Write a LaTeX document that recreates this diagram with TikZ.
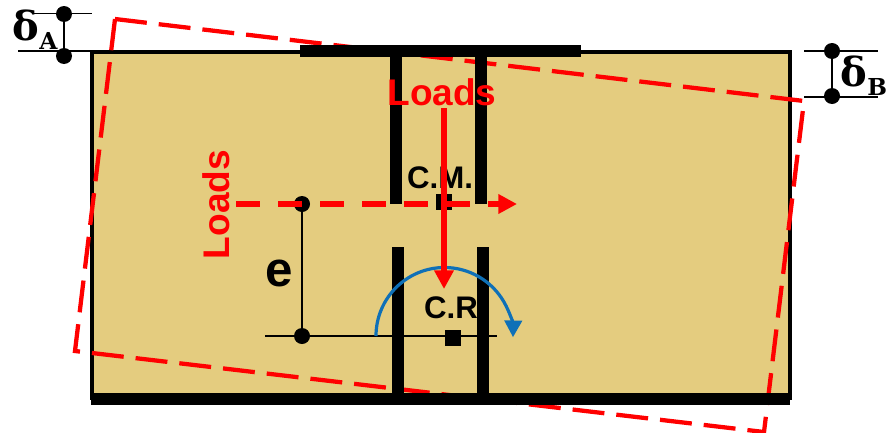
\documentclass[tikz,border=0pt]{standalone}
\usepackage{fontspec}
\setmainfont{Liberation Sans}
\newfontfamily\delfont{DejaVu Serif}
\newcommand{\subtxtfont}{\delfont\fontsize{17.5}{20}\selectfont\bfseries}
\usetikzlibrary{arrows.meta}

\definecolor{slabtan}{HTML}{E4CC7F}
\definecolor{arcblue}{HTML}{0F70B7}

\tikzstyle{wall} = [line width=9pt, black]
\tikzstyle{dot} = [circle, fill=black, inner sep=0pt, minimum size=12pt]
\tikzstyle{sqr} = [rectangle, fill=black, inner sep=0pt, minimum size=11.5pt]
\tikzstyle{thinline} = [line width=1.4pt, black]
\tikzstyle{loadtxt} = [text=red, font=\fontsize{27.8}{30}\selectfont\bfseries, inner sep=0pt]
\tikzstyle{pointtxt} = [text=black, font=\fontsize{23.4}{26}\selectfont\bfseries, inner sep=0pt]
\tikzstyle{deltxt} = [text=black, font=\delfont\fontsize{30}{32}\selectfont\bfseries, inner sep=0pt]
\tikzstyle{redarrow} = [red, -{Triangle[length=14pt,width=14pt]}]

\begin{document}
\begin{tikzpicture}[x=0.75pt, y=-0.75pt]
\useasboundingbox (0,0) rectangle (887,432);

%% Slab
\draw [fill=slabtan, line width=3pt] (92,52) rectangle (790,398);

%% Displaced outline
\draw [red, line width=3.2pt, dash pattern=on 24pt off 9pt] (115,19) -- (804,101) -- (764,432) -- (75,351) -- cycle;

%% Walls
\coordinate (top_l) at (300,51);
\coordinate (top_r) at (581,51);
\coordinate (bot_l) at (91,399);
\coordinate (bot_r) at (790,399);
\draw [wall] (top_l) -- (top_r);
\draw [wall] (bot_l) -- (bot_r);

\coordinate (up1_t) at (396,51);
\coordinate (up1_b) at (396,204);
\coordinate (up2_t) at (481,51);
\coordinate (up2_b) at (481,204);
\coordinate (lo1_t) at (398,247);
\coordinate (lo1_b) at (398,398);
\coordinate (lo2_t) at (483,247);
\coordinate (lo2_b) at (483,398);
\draw [wall] (up1_t) -- (up1_b);
\draw [wall] (up2_t) -- (up2_b);
\draw [wall] (lo1_t) -- (lo1_b);
\draw [wall] (lo2_t) -- (lo2_b);

%% Eccentricity
\node (ecc_top) [dot] at (302,204) {};
\node (ecc_bot) [dot] at (302,336) {};
\coordinate (cr_l) at (265,336);
\coordinate (cr_r) at (497,336);
\draw [thinline] (ecc_top) -- (ecc_bot);
\draw [thinline] (cr_l) -- (cr_r);
\node (ecc_txt) [inner sep=0pt, font=\fontsize{37}{40}\selectfont\bfseries] at (279,273) {e};

%% Centres
\node (cm_sqr) [sqr] at (444,202) {};
\node (cr_sqr) [sqr] at (453,338) {};
\node (cm_txt) [pointtxt] at (440,178) {C.M.};
\node (cr_txt) [pointtxt] at (451,308) {C.R};

%% Rotation
\coordinate (arc_s) at (376,336);
\draw [arcblue, line width=2.4pt, -{Triangle[length=12.5pt,width=13pt]}] (arc_s) arc [start angle=180, end angle=361, radius=68.5];

%% Loads
\coordinate (lod_v_t) at (444,108);
\coordinate (lod_v_b) at (444,289);
\coordinate (lod_h_l) at (236,204);
\coordinate (lod_h_r) at (517,204);
\draw [redarrow, line width=4.5pt, dash pattern=on 18pt off 13.5pt] (lod_h_l) -- (lod_h_r);
\draw [redarrow, line width=4.5pt] (lod_v_t) -- (lod_v_b);
\node (lod_v) [loadtxt] at (442,92) {Loads};
\node (lod_h) [loadtxt, rotate=90] at (216,204.5) {Loads};

%% Delta A
\node (dA_t) [dot] at (64,14) {};
\node (dA_b) [dot] at (64,56) {};
\coordinate (dA_tl) at (34,13.5);
\coordinate (dA_tr) at (92,13.5);
\coordinate (dA_bl) at (18,51);
\coordinate (dA_br) at (91,51);
\draw [thinline] (dA_t) -- (dA_b);
\draw [thinline] (dA_tl) -- (dA_tr);
\draw [thinline] (dA_bl) -- (dA_br);
\node (dA_txt) [deltxt] at (35,30) {δ\raisebox{-7pt}{\subtxtfont A}};

%% Delta B
\node (dB_t) [dot] at (832,51) {};
\node (dB_b) [dot] at (832,96) {};
\coordinate (dB_tl) at (804,51);
\coordinate (dB_tr) at (878,51);
\coordinate (dB_bl) at (804,97);
\coordinate (dB_br) at (878,97);
\draw [thinline] (dB_t) -- (dB_b);
\draw [thinline] (dB_tl) -- (dB_tr);
\draw [thinline] (dB_bl) -- (dB_br);
\node (dB_txt) [deltxt] at (864,76) {δ\raisebox{-7pt}{\subtxtfont B}};
\end{tikzpicture}
\end{document}
